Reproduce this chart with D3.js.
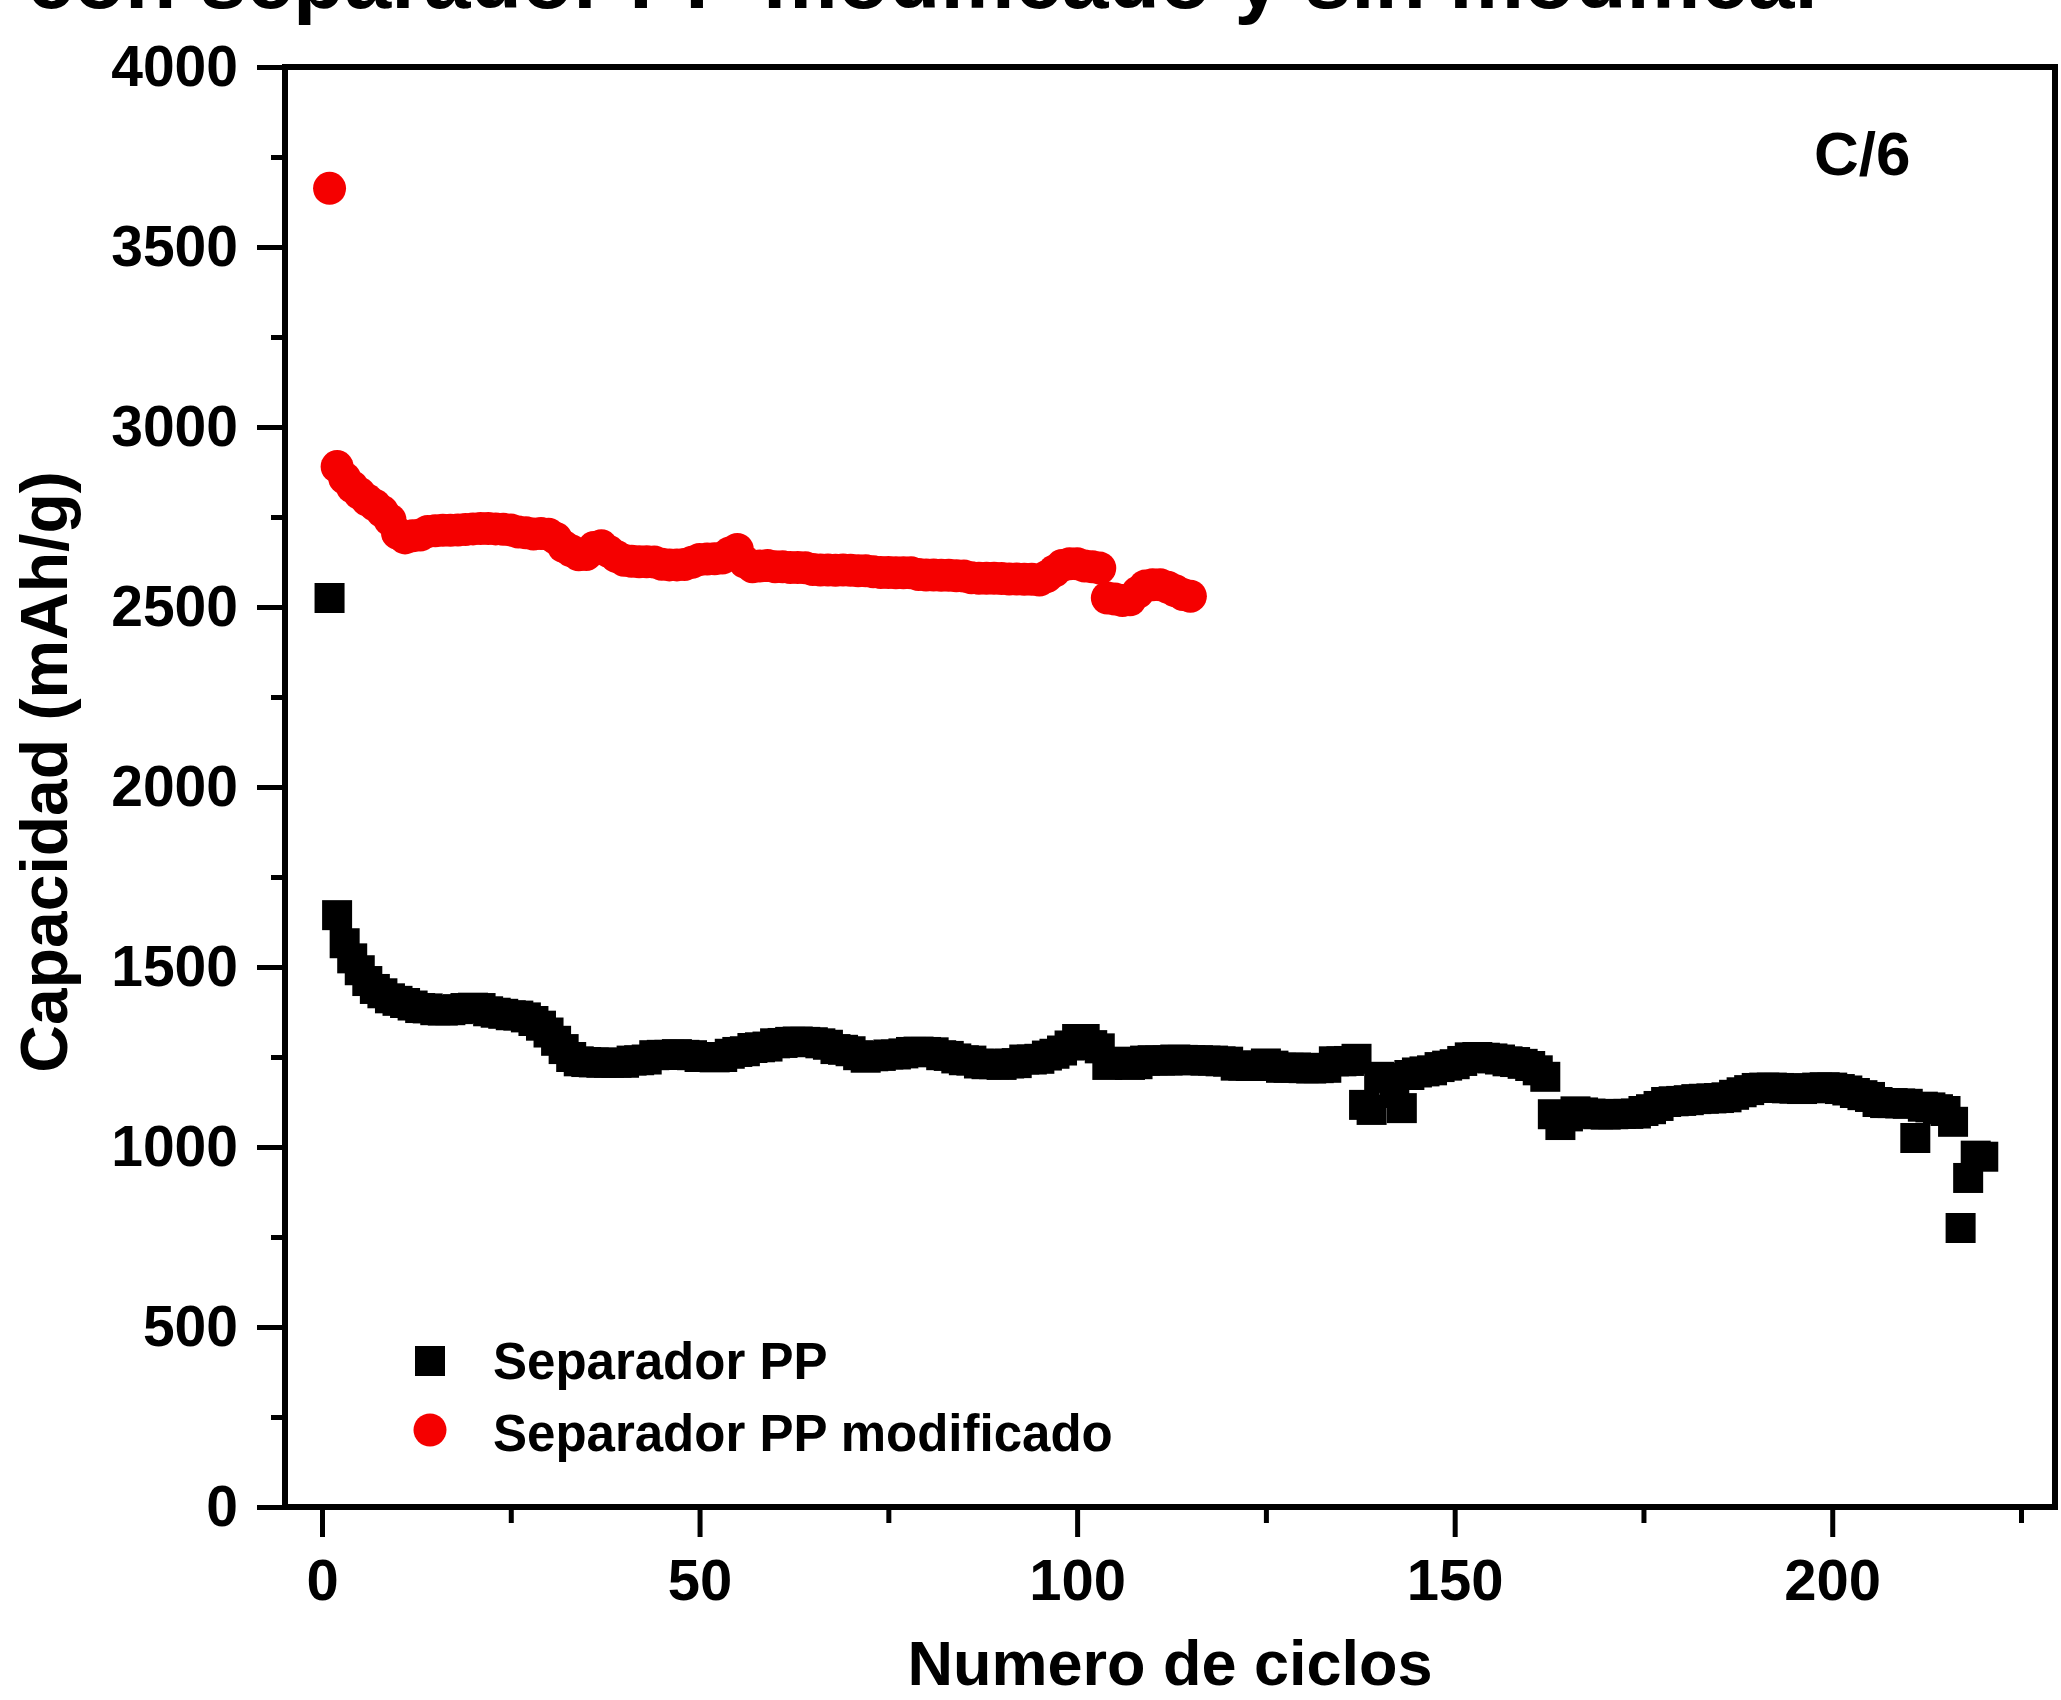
<!DOCTYPE html>
<html>
<head>
<meta charset="utf-8">
<script src="https://cdn.jsdelivr.net/npm/d3@7"></script>
<style>
  body { margin: 0; background: #fff; }
  svg text { font-family: 'Liberation Sans', Arial, sans-serif; font-weight: bold; fill: #000; }
</style>
</head>
<body>
<div id="chart"></div>
<script>
// capacity per cycle (cycle 1 first)
const ppCycles = d3.range(1, 221)
const ppValues = [
  2525, 1644, 1566, 1524, 1491, 1461, 1439, 1427, 1413, 1406,
  1400, 1393, 1386, 1385, 1380, 1379, 1380, 1383, 1386, 1387,
  1386, 1377, 1373, 1370, 1366, 1365, 1360, 1350, 1337, 1318,
  1295, 1272, 1250, 1238, 1236, 1235, 1234, 1234, 1234, 1234,
  1240, 1241, 1243, 1255, 1256, 1256, 1258, 1256, 1255, 1250,
  1250, 1249, 1250, 1259, 1264, 1266, 1275, 1277, 1279, 1288,
  1289, 1292, 1293, 1292, 1291, 1288, 1284, 1272, 1270, 1266,
  1255, 1248, 1252, 1253, 1257, 1257, 1260, 1264, 1265, 1264,
  1263, 1255, 1253, 1246, 1241, 1240, 1232, 1230, 1230, 1228,
  1232, 1233, 1243, 1243, 1245, 1254, 1259, 1268, 1282, 1300,
  1300, 1283, 1274, 1228, 1233, 1237, 1228, 1230, 1240, 1241,
  1240, 1240, 1243, 1242, 1241, 1241, 1240, 1240, 1238, 1237,
  1226, 1226, 1225, 1226, 1232, 1226, 1220, 1220, 1221, 1219,
  1218, 1219, 1220, 1238, 1238, 1239, 1245, 1117, 1103, 1195,
  1192, 1150, 1108, 1200, 1207, 1210, 1213, 1222, 1226, 1230,
  1239, 1249, 1250, 1248, 1246, 1243, 1238, 1236, 1231, 1225,
  1213, 1195, 1091, 1061, 1085, 1099, 1096, 1093, 1091, 1090,
  1091, 1092, 1092, 1093, 1100, 1105, 1114, 1125, 1127, 1128,
  1130, 1133, 1134, 1135, 1136, 1138, 1145, 1152, 1158, 1164,
  1165, 1165, 1164, 1163, 1162, 1161, 1163, 1165, 1166, 1165,
  1161, 1157, 1150, 1144, 1139, 1125, 1122, 1122, 1121, 1120,
  1025, 1112, 1110, 1105, 1100, 1070, 775, 914, 976, 973
]

const modCycles = d3.range(1, 116)
const modValues = [
  3663, 2890, 2858, 2834, 2815, 2797, 2783, 2765, 2742, 2705,
  2692, 2698, 2700, 2710, 2712, 2713, 2713, 2714, 2715, 2717,
  2718, 2718, 2717, 2716, 2714, 2708, 2706, 2703, 2704, 2702,
  2690, 2668, 2656, 2645, 2646, 2665, 2670, 2654, 2640, 2630,
  2627, 2626, 2626, 2625, 2619, 2617, 2617, 2618, 2624, 2632,
  2633, 2634, 2636, 2650, 2660, 2625, 2612, 2614, 2615, 2612,
  2612, 2610, 2610, 2609, 2604, 2603, 2603, 2602, 2603, 2602,
  2601, 2601, 2598, 2596, 2596, 2595, 2595, 2595, 2590, 2589,
  2589, 2588, 2588, 2587, 2586, 2581, 2580, 2580, 2580, 2579,
  2578, 2578, 2577, 2577, 2575, 2585, 2600, 2615, 2620, 2620,
  2614, 2612, 2608, 2525, 2522, 2518, 2520, 2540, 2558, 2562,
  2562, 2555, 2545, 2535, 2530
]

const xTicks = [0, 50, 100, 150, 200]
const xMinorTicks = [25, 75, 125, 175, 225]
const yTicks = [0, 500, 1000, 1500, 2000, 2500, 3000, 3500, 4000]
const yMinorTicks = [250, 750, 1250, 1750, 2250, 2750, 3250, 3750]
const legendLabels = ['Separador PP', 'Separador PP modificado']

const width = 2061
const height = 1700
const plot = { left: 285, right: 2055, top: 67, bottom: 1507 }

const svg = d3.select('#chart').append('svg')
  .attr('width', width)
  .attr('height', height)

const x = d3.scaleLinear().domain([-4.9, 229.5]).range([plot.left, plot.right])
const y = d3.scaleLinear().domain([0, 4000]).range([plot.bottom, plot.top])

// title (only its lower part is inside the picture, as in the original)
svg.append('text')
  .attr('x', 27)
  .attr('y', 8)
  .style('font-size', '84px')
  .text('con separador PP modificado y sin modificar')

// axes
function styleAxis (g) {
  g.select('.domain').remove()
  g.selectAll('.tick line').attr('stroke', '#000').attr('stroke-width', 5)
}

svg.append('g')
  .attr('transform', `translate(${plot.left},0)`)
  .call(d3.axisLeft(y).tickValues(yTicks).tickSize(28).tickPadding(19).tickFormat(d3.format('d')))
  .call(styleAxis)
  .call(g => g.selectAll('.tick text').style('font-size', '57px').attr('font-family', null))

svg.append('g')
  .attr('transform', `translate(${plot.left},0)`)
  .call(d3.axisLeft(y).tickValues(yMinorTicks).tickSize(14).tickFormat(''))
  .call(styleAxis)

svg.append('g')
  .attr('transform', `translate(0,${plot.bottom})`)
  .call(d3.axisBottom(x).tickValues(xTicks).tickSize(30).tickFormat(d3.format('d')))
  .call(styleAxis)
  .call(g => g.selectAll('.tick text')
    .style('font-size', '58px')
    .attr('font-family', null)
    .attr('y', 93)
    .attr('dy', null))

svg.append('g')
  .attr('transform', `translate(0,${plot.bottom})`)
  .call(d3.axisBottom(x).tickValues(xMinorTicks).tickSize(16).tickFormat(''))
  .call(styleAxis)

// frame
svg.append('rect')
  .attr('x', plot.left)
  .attr('y', plot.top)
  .attr('width', plot.right - plot.left)
  .attr('height', plot.bottom - plot.top)
  .attr('fill', 'none')
  .attr('stroke', '#000')
  .attr('stroke-width', 6)

// axis titles
svg.append('text')
  .attr('x', (plot.left + plot.right) / 2)
  .attr('y', 1685)
  .attr('text-anchor', 'middle')
  .style('font-size', '63px')
  .text('Numero de ciclos')

svg.append('text')
  .attr('transform', 'translate(67,772) rotate(-90)')
  .attr('text-anchor', 'middle')
  .style('font-size', '66px')
  .text('Capacidad (mAh/g)')

svg.append('text')
  .attr('x', 1814)
  .attr('y', 175)
  .style('font-size', '62px')
  .text('C/6')

// data
const sq = 30
svg.append('g').selectAll('rect')
  .data(ppValues)
  .enter().append('rect')
  .attr('x', (d, i) => x(ppCycles[i]) - sq / 2)
  .attr('y', d => y(d) - sq / 2)
  .attr('width', sq)
  .attr('height', sq)
  .attr('fill', '#000')

svg.append('g').selectAll('circle')
  .data(modValues)
  .enter().append('circle')
  .attr('cx', (d, i) => x(modCycles[i]))
  .attr('cy', d => y(d))
  .attr('r', 16.5)
  .attr('fill', '#f50000')

// legend
const legend = svg.append('g').attr('transform', 'translate(430,1361)')
legend.append('rect')
  .attr('x', -sq / 2).attr('y', -sq / 2)
  .attr('width', sq).attr('height', sq)
  .attr('fill', '#000')
legend.append('circle')
  .attr('cx', 0).attr('cy', 69)
  .attr('r', 16.5)
  .attr('fill', '#f50000')
legend.selectAll('text')
  .data(legendLabels)
  .enter().append('text')
  .attr('x', 63)
  .attr('y', (d, i) => 18 + i * 72)
  .style('font-size', '51px')
  .text(d => d)
</script>
</body>
</html>
